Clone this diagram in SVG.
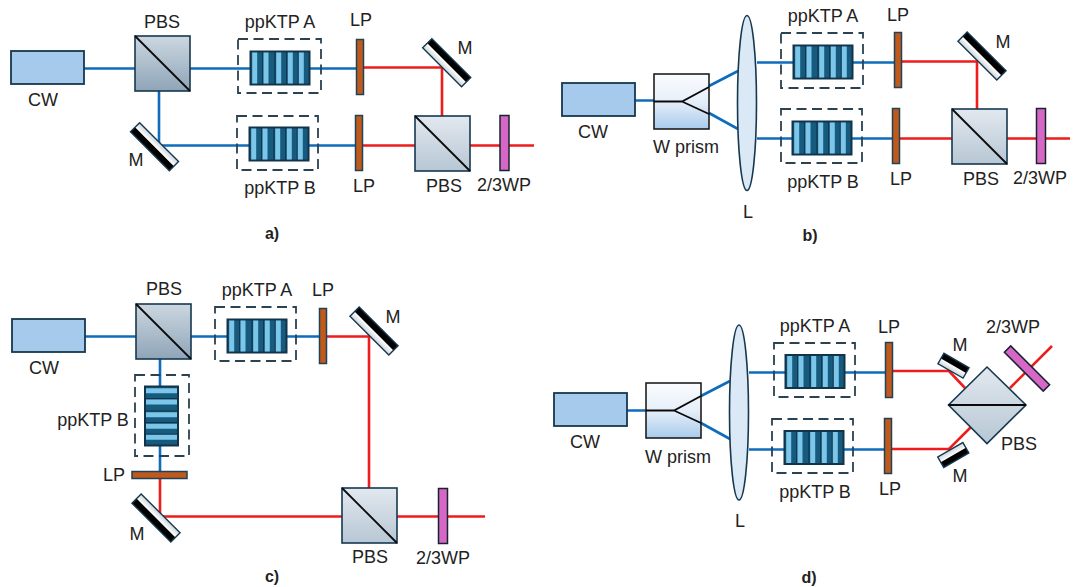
<svg xmlns="http://www.w3.org/2000/svg" xmlns:xlink="http://www.w3.org/1999/xlink" width="1073" height="587" viewBox="0 0 1073 587">
<style>
text{font-family:"Liberation Sans",Arial,sans-serif;font-size:18px;fill:#222;text-anchor:middle}
.cap{font-weight:700;font-size:16px;fill:#222}
.b{stroke:#0f6cbd;stroke-width:2.6;fill:none}
.r{stroke:#ee1c1c;stroke-width:2.6;fill:none}
.o{stroke:#16384f;stroke-width:1.6}
.d{fill:none;stroke:#2a4252;stroke-width:1.8;stroke-dasharray:10 5.500}
.k{stroke:#0a0a0a;stroke-width:1.8;fill:none}
</style>
<defs>
<linearGradient id="gp" x1="0" y1="0" x2="0" y2="1"><stop offset="0" stop-color="#ccd7e0"/><stop offset="1" stop-color="#8fa5b8"/></linearGradient>
<linearGradient id="gq" x1="0" y1="0" x2="0" y2="1"><stop offset="0" stop-color="#e2e8ef"/><stop offset="1" stop-color="#b7c7d4"/></linearGradient>
<linearGradient id="gw" x1="0" y1="0" x2="0" y2="1"><stop offset="0" stop-color="#fbfcfe"/><stop offset="0.5" stop-color="#e6eff9"/><stop offset="1" stop-color="#a9cbec"/></linearGradient>
<linearGradient id="gm" x1="0" y1="0" x2="1" y2="0"><stop offset="0" stop-color="#fff"/><stop offset="1" stop-color="#cfd6da"/></linearGradient>
<g id="crystal">
<rect x="0" y="0" width="59" height="33" fill="#165a7e" stroke="#12344a" stroke-width="2"/>
<path d="M12.200 0V33M24.500 0V33M36.200 0V33M47.800 0V33" stroke="#12344a" stroke-width="1.200"/>
<path d="M1.700 1h5v31h-5zM13 1h5v31h-5zM25.700 1h5v31h-5zM37.300 1h5v31h-5zM48.300 1h5v31h-5z" fill="#7cc6ea"/>
</g>
<g id="cw"><rect x="0" y="0" width="73" height="33" fill="#a6caec" stroke="#16384f" stroke-width="1.800"/></g>
<g id="pbs"><rect x="0" y="0" width="55" height="55" fill="url(#gp)" class="o"/><path d="M0 0L55 55" class="k"/></g>
<g id="pbs2"><rect x="0" y="0" width="55" height="55" fill="url(#gq)" class="o"/><path d="M0 0L55 55" class="k"/></g>
<g id="wp"><rect x="0" y="0" width="55" height="55" fill="url(#gw)" stroke="#111" stroke-width="1.500"/><path d="M0 27.500H28L55 13M28 27.500L55 40" class="k"/></g>
<g id="lens"><ellipse cx="0" cy="0" rx="9.500" ry="87.500" fill="#dbe8f5" stroke="#16384f" stroke-width="1.600"/></g>
<g id="lp"><rect x="-3.500" y="-27.500" width="7" height="55" fill="#c05a1c" stroke="#1f4257" stroke-width="1.500"/></g>
<g id="hwp"><rect x="-4.500" y="-27.500" width="9" height="55" fill="#d667c6" stroke="#16242e" stroke-width="1.500"/></g>
<g id="mirror"><rect x="-6.500" y="-27.500" width="7" height="55" fill="#000"/><rect x="0" y="-27.500" width="6.500" height="55" fill="url(#gm)"/><rect x="-6.500" y="-27.500" width="13" height="55" fill="none" stroke="#16384f" stroke-width="1.400"/></g>
<g id="mshort"><rect x="-6" y="-14.500" width="7" height="29" fill="#000"/><rect x="0" y="-14.500" width="6" height="29" fill="url(#gm)"/><rect x="-6" y="-14.500" width="12" height="29" fill="none" stroke="#16384f" stroke-width="1.400"/></g>
</defs>

<g id="connectors">
<path class="b" d="M83 68.500H135M190 68.500H250M309 68.500H357M159 91V145.500H249M308 145.500H356"/>
<path class="r" d="M364 67.500H442V116M363 145.500H415M470 145.500H500M509 145.500H534"/>
<path class="b" d="M634 100.500H655M709 86L738 71M709 113L738 129M757 62.500H793M852 62.500H895M757 138.500H792M851 138.500H893"/>
<path class="r" d="M902 61.500H977V109M897 138.500H952M1007 138.500H1036M1045 138.500H1070"/>
<path class="b" d="M85 336.500H136M191 336.500H227M286 336.500H319M160 359V386M160 446V472"/>
<path class="r" d="M327 336.500H369V488M160 479V516.500H342M397 516.500H438M447 516.500H485"/>
<path class="b" d="M626 410.500H647M701 396L730 381M701 423L730 439M749 372.500H785M844 372.500H886M749 449.500H784M843 449.500H884"/>
<path class="r" d="M893 371H949L965 388M891 449H949L971 427M1010 388L1052 346"/>
</g>

<g id="a">
<use href="#cw" x="11" y="51"/><text x="43" y="106">CW</text>
<g id="a-pbs1"><use href="#pbs" x="135" y="36"/><text x="162" y="28">PBS</text></g>
<g id="a-crystalA"><rect class="d" x="238" y="39" width="83" height="54"/><use href="#crystal" x="250.500" y="51.500"/><text x="280" y="28">ppKTP A</text></g>
<g id="a-crystalB"><rect class="d" x="237" y="116" width="81" height="54"/><use href="#crystal" x="249.500" y="127.500"/><text x="280" y="194">ppKTP B</text></g>
<g id="a-lpA"><use href="#lp" x="360" y="67"/><text x="361" y="26">LP</text></g>
<g id="a-lpB"><use href="#lp" x="359" y="143"/><text x="364" y="192">LP</text></g>
<g id="a-m1"><use href="#mirror" transform="translate(154.500,146.700) rotate(-45)"/><text x="136" y="166">M</text></g>
<g id="a-m2"><use href="#mirror" transform="translate(446.700,62.700) rotate(-45) scale(-1,1)"/><text x="465" y="54">M</text></g>
<g id="a-pbs2"><use href="#pbs2" x="415" y="116"/><text x="444" y="192">PBS</text></g>
<g id="a-wp"><use href="#hwp" x="504.500" y="143"/><text x="504" y="191">2/3WP</text></g>
<text class="cap" x="272" y="239">a)</text>
</g>

<g id="b">
<use href="#cw" x="562" y="83"/><text x="593" y="138">CW</text>
<g id="b-w"><use href="#wp" x="654" y="74"/><text x="686" y="153">W prism</text></g>
<g id="b-lens"><use href="#lens" x="747" y="103"/><text x="748" y="218">L</text></g>
<g id="b-crystalA"><rect class="d" x="781" y="33" width="82" height="55"/><use href="#crystal" x="793.500" y="45.500"/><text x="823" y="22">ppKTP A</text></g>
<g id="b-crystalB"><rect class="d" x="781" y="109" width="81" height="54"/><use href="#crystal" x="792.500" y="121.500"/><text x="823" y="188">ppKTP B</text></g>
<g id="b-lpA"><use href="#lp" x="898" y="60"/><text x="898" y="21">LP</text></g>
<g id="b-lpB"><use href="#lp" x="896" y="136"/><text x="901" y="185">LP</text></g>
<g id="b-m"><use href="#mirror" transform="translate(982,56) rotate(-45) scale(-1,1)"/><text x="1003" y="48">M</text></g>
<g id="b-pbs"><use href="#pbs2" x="952" y="109"/><text x="981" y="185">PBS</text></g>
<g id="b-wp"><use href="#hwp" x="1041" y="136"/><text x="1040" y="184">2/3WP</text></g>
<text class="cap" x="810" y="241">b)</text>
</g>

<g id="c">
<use href="#cw" x="12" y="319"/><text x="44" y="374">CW</text>
<g id="c-pbs"><use href="#pbs" x="136" y="304"/><text x="164" y="295">PBS</text></g>
<g id="c-crystalA"><rect class="d" x="215" y="307" width="81" height="54"/><use href="#crystal" x="227.500" y="319.500"/><text x="257" y="296">ppKTP A</text></g>
<g id="c-crystalB"><rect class="d" x="135" y="375" width="54" height="81"/><use href="#crystal" transform="translate(145,386.500) rotate(90) translate(0,-33)"/><text x="93" y="426">ppKTP B</text></g>
<g id="c-lp"><use href="#lp" transform="translate(159.500,475) rotate(90)"/><text x="114" y="481">LP</text></g>
<g id="c-m1"><use href="#mirror" transform="translate(156,518) rotate(-45)"/><text x="137" y="540">M</text></g>
<g id="c-lp2"><use href="#lp" x="323" y="336"/><text x="323" y="296">LP</text></g>
<g id="c-m2"><use href="#mirror" transform="translate(374,331) rotate(-45) scale(-1,1)"/><text x="393" y="323">M</text></g>
<g id="c-pbs2"><use href="#pbs2" x="342" y="488"/><text x="370" y="563">PBS</text></g>
<g id="c-wp"><use href="#hwp" x="443" y="516"/><text x="443" y="564">2/3WP</text></g>
<text class="cap" x="272" y="582">c)</text>
</g>

<g id="d">
<use href="#cw" x="554" y="393"/><text x="585" y="448">CW</text>
<g id="d-w"><use href="#wp" x="646" y="383"/><text x="678" y="463">W prism</text></g>
<g id="d-lens"><use href="#lens" x="739" y="412.500"/><text x="740" y="527">L</text></g>
<g id="d-crystalA"><rect class="d" x="774" y="343" width="81" height="54"/><use href="#crystal" x="785.500" y="355"/><text x="815" y="332">ppKTP A</text></g>
<g id="d-crystalB"><rect class="d" x="772" y="419" width="81" height="54"/><use href="#crystal" x="784.500" y="431"/><text x="815" y="498">ppKTP B</text></g>
<g id="d-lpA"><use href="#lp" x="889" y="370"/><text x="889" y="333">LP</text></g>
<g id="d-lpB"><use href="#lp" x="888" y="446"/><text x="890" y="495">LP</text></g>
<g id="d-m1"><use href="#mshort" transform="translate(953.500,365.700) rotate(-60) scale(-1,1)"/><text x="960" y="351">M</text></g>
<g id="d-m2"><use href="#mshort" transform="translate(953.300,455) rotate(60) scale(-1,1)"/><text x="960" y="482">M</text></g>
<g id="d-pbs"><path d="M987 367L1026 405L987 443.500L948.500 405Z" fill="url(#gq)" class="o"/><path d="M948.500 405H1026" class="k"/><text x="1019" y="450">PBS</text></g>
<g id="d-wp"><use href="#hwp" transform="translate(1027,368.500) rotate(-45)"/><text x="1013" y="333">2/3WP</text></g>
<text class="cap" x="809" y="583">d)</text>
</g>
</svg>
